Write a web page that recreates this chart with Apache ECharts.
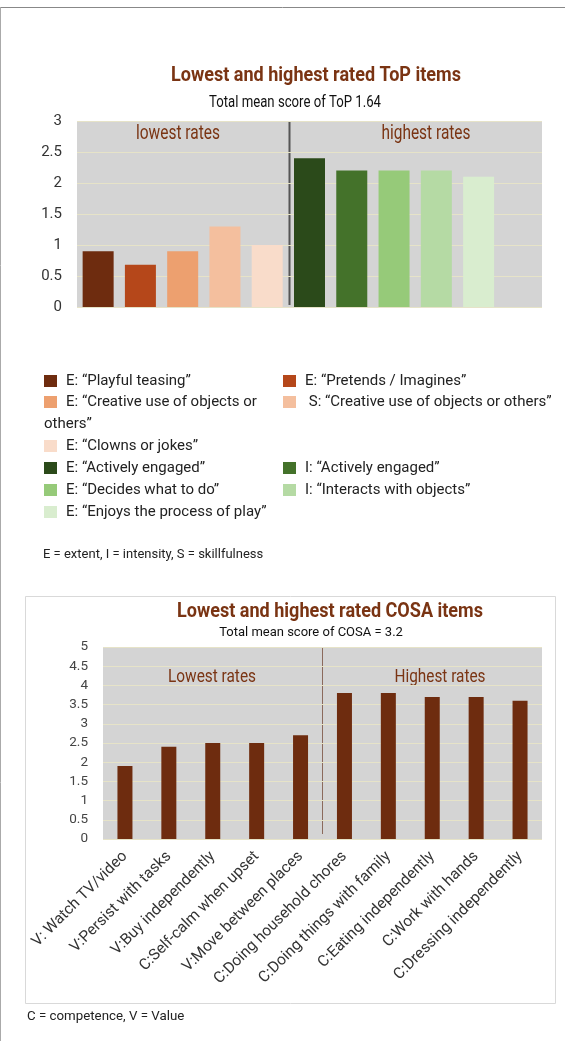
<!DOCTYPE html>
<html>
<head>
<meta charset="utf-8">
<script src="https://cdn.jsdelivr.net/npm/echarts@6/dist/echarts.min.js"></script>
<style>
  html, body { margin: 0; padding: 0; background: #fff; }
  #main { width: 565px; height: 1041px; }
</style>
</head>
<body>
<div id="main"></div>
<script>
// ToP items (top chart)
var topItems = ['E: “Playful teasing”', 'E: “Pretends / Imagines”', 'E: “Creative use of objects or others”',
  ' S: “Creative use of objects or others”', 'E: “Clowns or jokes”', 'E: “Actively engaged”',
  'I: “Actively engaged”', 'E: “Decides what to do”', 'I: “Interacts with objects”', 'E: “Enjoys the process of play”'];
var topValues = [0.9, 0.68, 0.9, 1.3, 1.0, 2.4, 2.2, 2.2, 2.2, 2.1];
var topColors = ['#6e2c0f', '#b5471a', '#eda06f', '#f4bf9e', '#f9dcca', '#2b4a1a', '#44722a', '#96ca79', '#b5daa4', '#d9edcf'];
var topTicks = [0, 0.5, 1, 1.5, 2, 2.5, 3];

// COSA items (bottom chart)
var cosaItems = ['V: Watch TV/video', 'V:Persist with tasks', 'V:Buy independently', 'C:Self-calm when upset',
  'V:Move between places', 'C:Doing household chores', 'C:Doing things with family',
  'C:Eating independently', 'C:Work with hands', 'C:Dressing independently'];
var cosaValues = [1.9, 2.4, 2.5, 2.5, 2.7, 3.8, 3.8, 3.7, 3.7, 3.6];

var plain = "Roboto, 'Liberation Sans', sans-serif";
var brown = '#7a3413';
var gridLineColor = '#e6e3c8';

// 没有窄体字体，用横向缩放模拟
var measureCtx = document.createElement('canvas').getContext('2d');
function narrowText(x, y, text, font, width, color) {
  measureCtx.font = font;
  var w = measureCtx.measureText(text).width;
  return {
    type: 'text', x: x, y: y, scaleX: width / w,
    style: { text: text, fill: color, font: font, textAlign: 'center', textVerticalAlign: 'middle' }
  };
}

var chart = echarts.init(document.getElementById('main'));

// 一个柱子一个系列，方便图例
var topSeries = topItems.map(function (name, i) {
  return {
    name: name,
    type: 'bar',
    xAxisIndex: 0,
    yAxisIndex: 0,
    stack: 'top',
    barWidth: 31,
    itemStyle: { color: topColors[i] },
    data: topItems.concat(['']).map(function (c, j) { return j === i ? topValues[i] : '-'; })
  };
});

// legend layout: [left, centerY]
var legendPos = [[44, 381], [283, 381], [44, 402], [283, 402], [44, 446], [44, 468], [283, 468], [44, 490], [283, 490], [44, 512]];
var legends = topItems.map(function (name, i) {
  return {
    left: legendPos[i][0],
    top: legendPos[i][1] - 8,
    padding: 0,
    itemWidth: 13,
    itemHeight: 12,
    icon: 'rect',
    selectedMode: false,
    data: [name],
    formatter: function (n) {
      return n === topItems[2] ? 'E: “Creative use of objects or' : n;
    },
    textStyle: { fontSize: 15, color: '#222', fontFamily: plain, lineHeight: 16, padding: [0, 0, 0, 4] }
  };
});

chart.setOption({
  backgroundColor: '#fff',
  animation: false,
  legend: legends,
  grid: [{
    left: 77, top: 121, width: 465, height: 186,
    show: true, backgroundColor: '#d4d4d4', borderWidth: 0
  }, {
    left: 103, top: 647, width: 439, height: 192,
    show: true, backgroundColor: '#d4d4d4', borderWidth: 0
  }],
  xAxis: [{
    gridIndex: 0,
    type: 'category',
    data: topItems.concat(['']),
    axisLine: { show: false },
    axisTick: { show: false },
    axisLabel: { show: false }
  }, {
    gridIndex: 1,
    type: 'category',
    data: cosaItems,
    axisLine: { show: false },
    axisTick: { show: false },
    axisLabel: {
      rotate: 45,
      margin: 15,
      interval: 0,
      fontSize: 15.5,
      color: '#333',
      fontFamily: plain
    }
  }],
  yAxis: [{
    gridIndex: 0,
    type: 'value',
    min: topTicks[0],
    max: topTicks[topTicks.length - 1],
    interval: 0.5,
    axisLine: { show: false },
    axisTick: { show: false },
    axisLabel: { margin: 15, fontSize: 15, color: '#333', fontFamily: plain },
    splitLine: { lineStyle: { color: gridLineColor, width: 1 } }
  }, {
    gridIndex: 1,
    type: 'value',
    min: 0,
    max: 5,
    interval: 0.5,
    axisLine: { show: false },
    axisTick: { show: false },
    axisLabel: { margin: 15, fontSize: 13.5, color: '#444', fontFamily: plain },
    splitLine: { lineStyle: { color: gridLineColor, width: 1 } }
  }],
  series: topSeries.concat([{
    name: 'COSA',
    type: 'bar',
    xAxisIndex: 1,
    yAxisIndex: 1,
    barWidth: 15,
    itemStyle: { color: '#6e2c0f' },
    data: cosaValues
  }]),
  graphic: [
    // page frame
    { type: 'line', shape: { x1: 0, y1: 7.5, x2: 565, y2: 7.5 }, style: { stroke: '#888', lineWidth: 1 } },
    { type: 'line', shape: { x1: 0.5, y1: 7, x2: 0.5, y2: 1041 }, style: { stroke: '#aaa', lineWidth: 1 } },
    // top chart texts
    narrowText(316, 76, 'Lowest and highest rated ToP items', 'bold 21px ' + plain, 290, brown),
    narrowText(295, 103, 'Total mean score of ToP 1.64', '16px ' + plain, 172, '#111'),
    { type: 'line', shape: { x1: 289.5, y1: 122, x2: 289.5, y2: 305 }, style: { stroke: '#555', lineWidth: 2 } },
    narrowText(178, 134, 'lowest rates', '20px ' + plain, 84, brown),
    narrowText(426, 134, 'highest rates', '20px ' + plain, 89, brown),
    { type: 'text', x: 44, y: 424, style: { text: 'others”', fill: '#222', font: '15px ' + plain, textVerticalAlign: 'middle' } },
    { type: 'text', x: 43, y: 555, style: { text: 'E = extent, I = intensity, S = skillfulness', fill: '#222', font: '13px ' + plain, textVerticalAlign: 'middle' } },
    // bottom chart box and texts
    { type: 'rect', shape: { x: 25.5, y: 596.5, width: 530, height: 407 }, style: { fill: 'none', stroke: '#d9d9d9', lineWidth: 1 }, z: -1 },
    narrowText(330, 612, 'Lowest and highest rated COSA items', 'bold 20px ' + plain, 306, brown),
    { type: 'text', x: 311, y: 633, style: { text: 'Total mean score of COSA = 3.2', fill: '#111', font: '13px ' + plain, textAlign: 'center', textVerticalAlign: 'middle' } },
    { type: 'line', shape: { x1: 322.5, y1: 647, x2: 322.5, y2: 834 }, style: { stroke: '#8b6a5c', lineWidth: 1 } },
    narrowText(212, 677, 'Lowest rates', '18px ' + plain, 88, brown),
    narrowText(440, 677, 'Highest rates', '18px ' + plain, 91, brown),
    { type: 'text', x: 27, y: 1017, style: { text: 'C = competence, V = Value', fill: '#222', font: '13.3px ' + plain, textVerticalAlign: 'middle' } }
  ]
});
</script>
</body>
</html>
